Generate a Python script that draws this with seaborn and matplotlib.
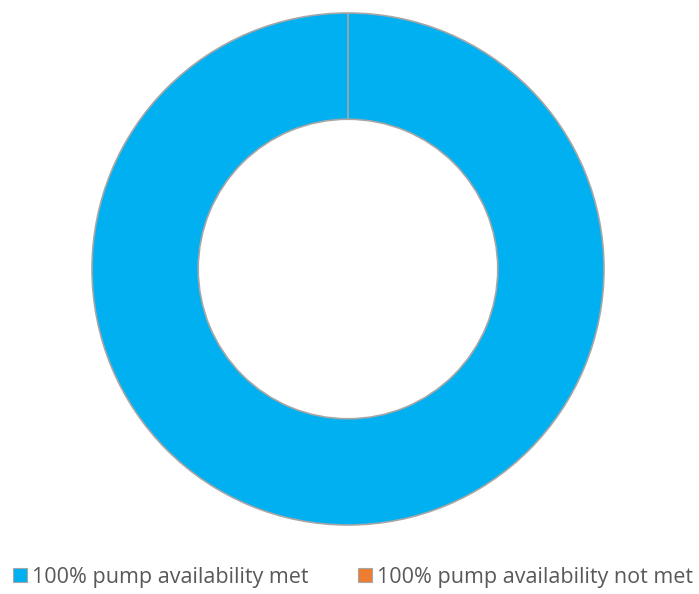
import matplotlib
matplotlib.use("Agg")
import matplotlib.pyplot as plt
from matplotlib.patches import Patch
import seaborn as sns

categories = ["100% pump availability met", "100% pump availability not met"]
values = [100, 0]
colors = ["#00B0F0", "#ED7D31"]

sns.set_theme(style="white")
plt.rcParams["font.family"] = ["Open Sans", "DejaVu Sans"]

fig = plt.figure(figsize=(6.99, 5.94), dpi=100)
W, H = 699, 594
cx, cy, r = 348, 269, 256
ax = fig.add_axes([(cx - r) / W, (H - cy - r) / H, 2 * r / W, 2 * r / H])

ax.pie(values, colors=sns.color_palette(colors), startangle=90, counterclock=False,
       radius=1.0,
       wedgeprops=dict(width=0.415, edgecolor="#A6A6A6", linewidth=1.2))
ax.set_xlim(-1.0, 1.0)
ax.set_ylim(-1.0, 1.0)
ax.set_aspect("equal")
ax.axis("off")

handles = [Patch(facecolor=c, edgecolor="#A6A6A6", linewidth=0.8) for c in colors]
fig.legend(handles, categories, loc="center", bbox_to_anchor=(353 / W, 1 - 577 / H),
           ncol=2, frameon=False, fontsize=15.5, labelcolor="#595959",
           handlelength=0.65, handleheight=0.65, handletextpad=0.25, columnspacing=2.3)

fig.savefig("out.png", dpi=100, facecolor="white")
